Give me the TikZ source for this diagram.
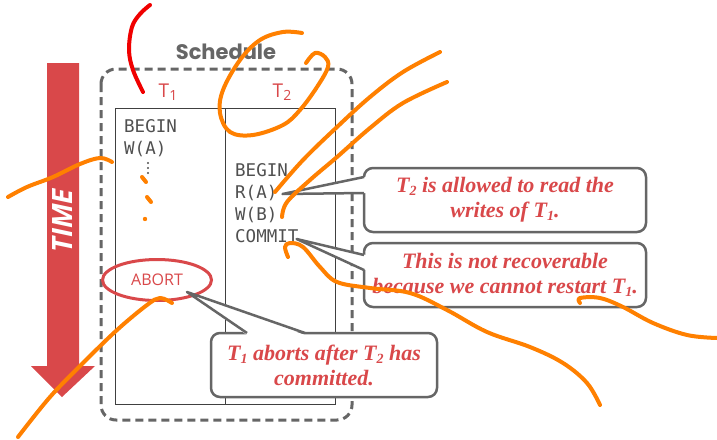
\documentclass[tikz,border=0pt]{standalone}
\usepackage{fontspec}
\setmainfont{Liberation Serif}
\newfontfamily\monofont{DejaVu Sans Mono}
\newfontfamily\labelfont{Open Sans}
\newfontfamily\headfont{Poppins}
\usetikzlibrary{shapes.geometric,calc}
\definecolor{slidered}{RGB}{217,72,74}
\definecolor{framegray}{RGB}{102,102,102}
\definecolor{codegray}{RGB}{80,80,80}
\definecolor{penorange}{RGB}{255,128,0}
\definecolor{penred}{RGB}{240,0,0}
\newcommand\lsub[1]{\raisebox{-0.3ex}{\fontsize{14}{14}\selectfont #1}}
\tikzset{
  code/.style={anchor=base west, inner sep=0, text=codegray,
    font=\monofont\fontsize{17.5}{17.5}\selectfont},
  txlabel/.style={text=slidered, inner sep=0,
    font=\labelfont\fontsize{19}{19}\selectfont},
  callout/.style={draw=framegray, line width=2.5, rounded corners=9,
    fill=white, text=slidered, align=center, inner sep=0, outer sep=0,
    minimum height=64, font=\bfseries\itshape\fontsize{22}{25}\selectfont},
  pointer/.style={framegray, line width=2.5, line join=round},
  pen/.style={line width=4, line cap=round, line join=round}
}
\begin{document}
\begin{tikzpicture}[x=1pt,y=-1pt]
\useasboundingbox (0,0) rectangle (717,439);
\fill[white] (0,0) rectangle (717,439);

% time arrow
\fill[slidered] (47,63) -- (79,63) -- (79,366) -- (95,366) -- (62,397)
  -- (31,366) -- (47,366) -- cycle;
\node[rotate=90, text=white, inner sep=0,
  font=\labelfont\bfseries\itshape\fontsize{28}{28}\selectfont] (time) at (63,221) {TIME};

% schedule frame
\node[font=\headfont\bfseries\fontsize{21}{21}\selectfont, text=framegray] (title) at (226,52) {Schedule};
\draw[framegray, line width=3, dash pattern=on 8 off 5, rounded corners=15]
  (101,69) rectangle (352,420);
\draw[black!75, line width=0.9] (115,108) rectangle (335,404);
\draw[black!75, line width=0.9] (225,108) -- (225,404);

\node[txlabel] (t1) at (168,92) {T\lsub{1}};
\node[txlabel] (t2) at (282,92) {T\lsub{2}};

% T1 column
\node[code] (b1) at (124,132) {BEGIN};
\node[code] (wa) at (124,154) {W(A)};
\foreach \yy in {163,168,173} \fill[codegray] (148,\yy) circle (1.2);
\node[ellipse, draw=slidered, line width=3, minimum width=109, minimum height=41,
  inner sep=0, text=slidered, font=\labelfont\fontsize{16}{16}\selectfont]
  (abort) at (157,280) {ABORT};

% T2 column
\node[code] (b2) at (235,176) {BEGIN};
\node[code] (ra) at (235,198) {R(A)};
\node[code] (wb) at (235,220) {W(B)};
\node[code] (commit) at (235,242) {COMMIT};

% callout 1
\node[callout, minimum width=282] (c1) at (505,200) {T\lsub{2} is allowed to read the\\writes of T\lsub{1}.};
\coordinate (c1a) at ($(c1.north west)+(0,9)$);
\coordinate (c1b) at ($(c1.north west)+(0,25)$);
\coordinate (c1tip) at ($(ra.base east)+(5,-4)$);
\fill[white] (c1tip) -- ($(c1a)+(2,0)$) -- ($(c1b)+(2,0)$) -- cycle;
\draw[pointer] (c1a) -- (c1tip) -- (c1b);

% callout 2
\node[callout, minimum width=282] (c2) at (505,275) {This is not recoverable\\because we cannot restart T\lsub{1}.};
\coordinate (c2a) at ($(c2.north west)+(0,12)$);
\coordinate (c2b) at ($(c2.north west)+(0,27)$);
\coordinate (c2tip) at ($(commit.base east)+(-2,-3)$);
\fill[white] (c2tip) -- ($(c2a)+(2,0)$) -- ($(c2b)+(2,0)$) -- cycle;
\draw[pointer] (c2a) -- (c2tip) -- (c2b);

% callout 3
\node[callout, minimum width=226] (c3) at (324,365) {T\lsub{1} aborts after T\lsub{2} has\\committed.};
\coordinate (c3a) at ($(c3.north west)+(36,0)$);
\coordinate (c3b) at ($(c3.north west)+(94,0)$);
\coordinate (c3tip) at ($(abort.center)+(30,12)$);
\fill[white] (c3tip) -- ($(c3a)+(0,2)$) -- ($(c3b)+(0,2)$) -- cycle;
\draw[pointer] (c3a) -- (c3tip) -- (c3b);

% pen strokes
\draw[pen, penred] plot[smooth, tension=0.6] coordinates {(150,5) (140,14) (132,27) (129,50) (133,70) (143,92)};
\begin{scope}[penorange]
\draw[pen] plot[smooth, tension=0.6] coordinates {(8,197) (27,187) (53,177) (80,164) (100,158) (112,162)};
\draw[pen] (142,177) -- (146,182);
\draw[pen] (147,197) -- (151,202);
\fill (145,219) circle (2.2);
\draw[pen] plot[smooth, tension=0.6] coordinates {(302,33) (283,32) (260,40) (240,60) (223,90) (220,113) (230,132) (253,135) (283,125) (300,110) (317,87) (328,67) (325,57) (315,53) (306,63)};
\draw[pen] plot[smooth, tension=0.6] coordinates {(275,192) (303,160) (337,127) (370,97) (403,72) (440,52)};
\draw[pen] plot[smooth, tension=0.6] coordinates {(282,217) (287,202) (310,180) (337,157) (370,128) (403,103) (447,82)};
\draw[pen] plot[smooth, tension=0.6] coordinates {(288,257) (285,247) (290,243) (303,247) (320,267) (337,282) (370,288) (410,293) (447,310) (487,332) (530,347) (563,363) (587,383) (600,405)};
\draw[pen] plot[smooth, tension=0.6] coordinates {(580,303) (580,298) (600,298) (623,307) (653,323) (687,335) (717,338)};
\draw[pen] plot[smooth, tension=0.6] coordinates {(172,303) (160,298) (147,305) (117,330) (83,363) (50,397) (18,437)};
\end{scope}
\end{tikzpicture}
\end{document}
